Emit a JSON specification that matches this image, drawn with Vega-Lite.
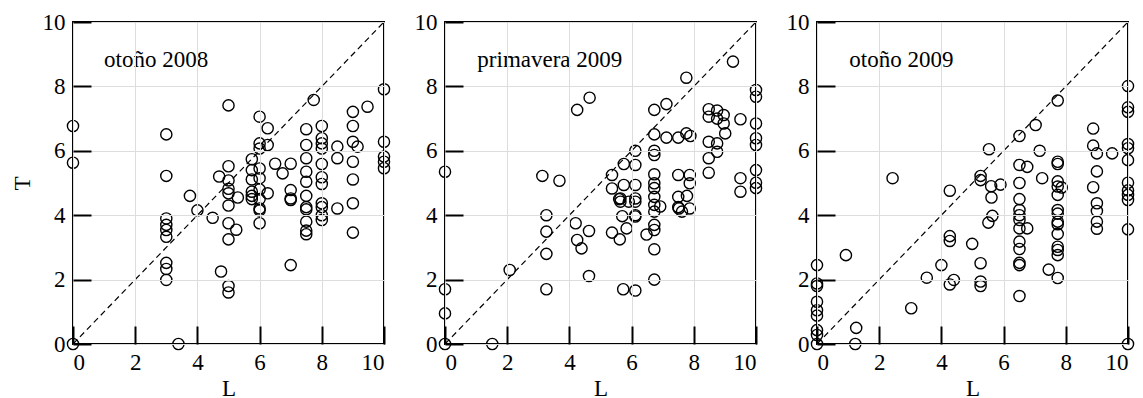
{
"$schema": "https://vega.github.io/schema/vega-lite/v6.json",
"padding": {"left": 10, "top": 10, "right": 2, "bottom": 0},
"spacing": 61,
"bounds": "flush",
"datasets": {
"diag": [{"L": 0, "T": 0}, {"L": 10, "T": 10}],
"p1": [
{"L":0,"T":0},{"L":0,"T":6.77},{"L":0,"T":5.63},
{"L":3,"T":6.51},{"L":3,"T":5.22},{"L":3,"T":3.9},{"L":3,"T":3.7},{"L":3,"T":3.54},{"L":3,"T":3.33},{"L":3,"T":2.52},{"L":3,"T":2.33},{"L":3,"T":1.99},
{"L":3.39,"T":0},{"L":3.76,"T":4.6},{"L":4.0,"T":4.15},{"L":4.49,"T":3.92},{"L":4.76,"T":2.25},{"L":4.7,"T":5.2},
{"L":5,"T":7.41},{"L":5,"T":5.52},{"L":5,"T":5.08},{"L":5,"T":4.82},{"L":5,"T":4.68},{"L":5,"T":4.3},{"L":5,"T":3.75},{"L":5,"T":3.25},{"L":5,"T":1.8},{"L":5,"T":1.6},{"L":5.25,"T":3.55},{"L":5.3,"T":4.55},
{"L":5.75,"T":5.74},{"L":5.75,"T":5.4},{"L":5.75,"T":5.11},{"L":5.75,"T":4.73},{"L":5.75,"T":4.6},{"L":5.75,"T":4.5},
{"L":6,"T":7.06},{"L":6,"T":6.23},{"L":6,"T":6.07},{"L":6,"T":5.45},{"L":6,"T":5.15},{"L":6,"T":4.8},{"L":6,"T":4.5},{"L":6,"T":4.21},{"L":6,"T":4.15},{"L":6,"T":3.75},
{"L":6.26,"T":6.7},{"L":6.26,"T":6.18},{"L":6.26,"T":4.68},
{"L":6.5,"T":5.6},{"L":6.74,"T":5.3},{"L":7,"T":5.6},{"L":7,"T":4.78},{"L":7,"T":4.52},{"L":7,"T":4.47},{"L":7,"T":2.45},
{"L":7.5,"T":6.67},{"L":7.5,"T":6.18},{"L":7.5,"T":5.77},{"L":7.5,"T":5.35},{"L":7.5,"T":5.04},{"L":7.5,"T":4.6},{"L":7.5,"T":4.25},{"L":7.5,"T":4.18},{"L":7.5,"T":3.8},{"L":7.5,"T":3.52},{"L":7.5,"T":3.41},
{"L":7.74,"T":7.58},
{"L":8,"T":6.77},{"L":8,"T":6.39},{"L":8,"T":6.23},{"L":8,"T":6.07},{"L":8,"T":5.59},{"L":8,"T":5.18},{"L":8,"T":4.97},{"L":8,"T":4.37},{"L":8,"T":4.25},{"L":8,"T":4.0},{"L":8,"T":3.85},
{"L":8.5,"T":6.13},{"L":8.5,"T":5.77},{"L":8.5,"T":4.21},
{"L":9,"T":7.21},{"L":9,"T":6.77},{"L":9,"T":6.28},{"L":9.15,"T":6.13},{"L":9,"T":5.66},{"L":9,"T":5.11},{"L":9,"T":4.37},{"L":9,"T":3.46},
{"L":9.47,"T":7.37},
{"L":10,"T":7.91},{"L":10,"T":6.28},{"L":10,"T":5.82},{"L":10,"T":5.66},{"L":10,"T":5.46}
],
"p2": [
{"L":0,"T":0},{"L":0,"T":5.35},{"L":0,"T":1.7},{"L":0,"T":0.95},{"L":1.52,"T":0},{"L":2.08,"T":2.3},
{"L":3.13,"T":5.22},{"L":3.68,"T":5.07},{"L":3.26,"T":4.0},{"L":3.26,"T":3.49},{"L":3.26,"T":2.8},{"L":3.26,"T":1.7},
{"L":4.2,"T":3.75},{"L":4.25,"T":3.23},{"L":4.39,"T":2.97},{"L":4.63,"T":3.51},{"L":4.63,"T":2.11},{"L":4.25,"T":7.27},{"L":4.65,"T":7.65},
{"L":5.37,"T":5.25},{"L":5.37,"T":4.83},{"L":5.37,"T":3.46},{"L":5.64,"T":4.52},{"L":5.6,"T":4.5},{"L":5.64,"T":4.42},{"L":5.62,"T":3.25},{"L":5.7,"T":3.97},{"L":5.73,"T":1.7},{"L":5.75,"T":5.59},{"L":5.75,"T":4.94},{"L":5.84,"T":3.59},{"L":5.91,"T":4.42},
{"L":6.12,"T":6.0},{"L":6.12,"T":5.56},{"L":6.12,"T":4.94},{"L":6.12,"T":4.52},{"L":6.12,"T":4.42},{"L":6.12,"T":4.0},{"L":6.12,"T":3.96},{"L":6.12,"T":1.66},{"L":6.48,"T":3.4},
{"L":6.73,"T":7.27},{"L":6.73,"T":6.51},{"L":6.73,"T":6.0},{"L":6.73,"T":5.87},{"L":6.73,"T":5.27},{"L":6.73,"T":4.99},{"L":6.73,"T":4.84},{"L":6.73,"T":4.57},{"L":6.73,"T":4.32},{"L":6.73,"T":4.11},{"L":6.73,"T":3.7},{"L":6.73,"T":3.54},{"L":6.73,"T":2.94},{"L":6.73,"T":2.0},{"L":6.92,"T":4.27},
{"L":7.12,"T":7.45},{"L":7.12,"T":6.41},{"L":7.5,"T":6.41},{"L":7.5,"T":5.25},{"L":7.5,"T":4.57},{"L":7.5,"T":4.25},{"L":7.52,"T":4.21},{"L":7.62,"T":4.11},
{"L":7.76,"T":8.27},{"L":7.76,"T":6.54},{"L":7.89,"T":6.46},{"L":7.87,"T":5.25},{"L":7.87,"T":4.99},{"L":7.78,"T":4.6},{"L":7.87,"T":4.21},
{"L":8.48,"T":7.29},{"L":8.48,"T":7.06},{"L":8.75,"T":7.25},{"L":8.75,"T":7.0},{"L":8.96,"T":7.11},{"L":8.96,"T":6.85},{"L":9.01,"T":6.54},{"L":8.48,"T":6.28},{"L":8.75,"T":6.23},{"L":8.75,"T":5.97},{"L":8.48,"T":5.77},{"L":8.48,"T":5.32},
{"L":9.26,"T":8.77},{"L":9.5,"T":6.98},{"L":9.5,"T":5.15},{"L":9.5,"T":4.73},
{"L":10,"T":7.89},{"L":10,"T":7.68},{"L":10,"T":6.85},{"L":10,"T":6.39},{"L":10,"T":6.18},{"L":10,"T":5.4},{"L":10,"T":5.01},{"L":10,"T":4.84}
],
"p3": [
{"L":0,"T":0},{"L":0,"T":0.28},{"L":0,"T":0.43},{"L":0,"T":0.88},{"L":0,"T":1.05},{"L":0,"T":1.31},{"L":0,"T":1.8},{"L":0,"T":1.88},{"L":0,"T":2.45},
{"L":0.93,"T":2.76},{"L":1.26,"T":0.5},{"L":1.23,"T":0},{"L":3.03,"T":1.11},{"L":3.53,"T":2.06},{"L":4.0,"T":2.45},{"L":4.27,"T":1.85},{"L":4.4,"T":1.99},{"L":4.27,"T":3.35},{"L":4.27,"T":3.2},{"L":4.27,"T":4.76},
{"L":2.43,"T":5.15},{"L":4.99,"T":3.11},{"L":5.26,"T":2.51},{"L":5.26,"T":1.94},{"L":5.26,"T":1.8},{"L":5.26,"T":5.22},{"L":5.26,"T":5.09},{"L":5.51,"T":3.77},{"L":5.64,"T":3.98},{"L":5.61,"T":4.55},{"L":5.6,"T":4.9},{"L":5.9,"T":4.95},{"L":5.53,"T":6.05},
{"L":6.51,"T":6.46},{"L":6.51,"T":5.56},{"L":6.51,"T":5.0},{"L":6.51,"T":4.5},{"L":6.51,"T":4.16},{"L":6.51,"T":4.0},{"L":6.51,"T":3.85},{"L":6.51,"T":3.59},{"L":6.51,"T":3.18},{"L":6.51,"T":2.95},{"L":6.51,"T":2.52},{"L":6.51,"T":2.45},{"L":6.51,"T":1.49},
{"L":6.76,"T":5.5},{"L":6.76,"T":3.59},{"L":7.03,"T":6.8},{"L":7.16,"T":6.0},{"L":7.24,"T":5.15},{"L":7.45,"T":2.31},
{"L":7.74,"T":7.56},{"L":7.74,"T":5.66},{"L":7.74,"T":5.59},{"L":7.74,"T":5.05},{"L":7.74,"T":4.89},{"L":7.74,"T":4.63},{"L":7.74,"T":4.16},{"L":7.74,"T":4.05},{"L":7.74,"T":3.8},{"L":7.74,"T":3.72},{"L":7.74,"T":3.42},{"L":7.74,"T":3.02},{"L":7.74,"T":2.92},{"L":7.74,"T":2.76},{"L":7.74,"T":2.05},
{"L":7.87,"T":4.86},
{"L":8.88,"T":6.69},{"L":8.88,"T":6.16},{"L":8.88,"T":4.87},
{"L":9,"T":5.92},{"L":9,"T":5.36},{"L":9,"T":4.37},{"L":9,"T":4.13},{"L":9,"T":3.8},{"L":9,"T":3.58},
{"L":9.49,"T":5.92},
{"L":10,"T":8.01},{"L":10,"T":7.35},{"L":10,"T":7.21},{"L":10,"T":6.21},{"L":10,"T":6.08},{"L":10,"T":5.71},{"L":10,"T":5.01},{"L":10,"T":4.77},{"L":10,"T":4.63},{"L":10,"T":4.47},{"L":10,"T":3.56},{"L":10,"T":0}
]
},
"hconcat": [
{
"width": 311, "height": 322,
"layer": [
{"data": {"name": "p1"}, "mark": {"type": "point", "shape": "circle", "filled": false, "stroke": "black", "strokeWidth": 1.4, "size": 125, "opacity": 1},
 "encoding": {
  "x": {"field": "L", "type": "quantitative", "scale": {"domain": [0, 10], "nice": false, "zero": false}, "axis": {"orient": "bottom", "zindex": 1, "values": [0,1,2,3,4,5,6,7,8,9,10], "labelExpr": "datum.value % 2 ? '' : datum.label", "labelFont": "Liberation Serif", "labelFontSize": 23, "labelPadding": 25, "tickSize": {"condition": {"test": "datum.value % 2 == 1", "value": -9}, "value": -18}, "tickColor": "black", "tickWidth": 2, "domain": false, "title": "L", "titleFont": "Liberation Serif", "titleFontSize": 23, "titleFontWeight": "normal", "titlePadding": 3}},
  "y": {"field": "T", "type": "quantitative", "scale": {"domain": [0, 10], "nice": false, "zero": false}, "axis": {"orient": "left", "zindex": 1, "values": [0,1,2,3,4,5,6,7,8,9,10], "labelExpr": "datum.value % 2 ? '' : datum.label", "labelFont": "Liberation Serif", "labelFontSize": 23, "labelPadding": 26, "tickSize": {"condition": {"test": "datum.value % 2 == 1", "value": -9}, "value": -18}, "tickColor": "black", "tickWidth": 2, "domain": false, "title": "T", "titleFont": "Liberation Serif", "titleFontSize": 23, "titleFontWeight": "normal", "titlePadding": 8}}}},
{"data": {"name": "diag"}, "mark": {"type": "line", "stroke": "black", "strokeWidth": 1.2, "strokeDash": [6, 4]},
 "encoding": {
  "x": {"field": "L", "type": "quantitative"},
  "y": {"field": "T", "type": "quantitative"}}},
{"data": {"values": [{"L": 1, "T": 8.6, "label": "otoño 2008"}]}, "mark": {"type": "text", "align": "left", "baseline": "alphabetic", "font": "Liberation Serif", "fontSize": 23, "color": "black"},
 "encoding": {
  "text": {"field": "label"},
  "x": {"field": "L", "type": "quantitative"},
  "y": {"field": "T", "type": "quantitative"}}}
]
},
{
"width": 311, "height": 322,
"layer": [
{"data": {"name": "p2"}, "mark": {"type": "point", "shape": "circle", "filled": false, "stroke": "black", "strokeWidth": 1.4, "size": 125, "opacity": 1},
 "encoding": {
  "x": {"field": "L", "type": "quantitative", "scale": {"domain": [0, 10], "nice": false, "zero": false}, "axis": {"orient": "bottom", "zindex": 1, "values": [0,1,2,3,4,5,6,7,8,9,10], "labelExpr": "datum.value % 2 ? '' : datum.label", "labelFont": "Liberation Serif", "labelFontSize": 23, "labelPadding": 25, "tickSize": {"condition": {"test": "datum.value % 2 == 1", "value": -9}, "value": -18}, "tickColor": "black", "tickWidth": 2, "domain": false, "title": "L", "titleFont": "Liberation Serif", "titleFontSize": 23, "titleFontWeight": "normal", "titlePadding": 3}},
  "y": {"field": "T", "type": "quantitative", "scale": {"domain": [0, 10], "nice": false, "zero": false}, "axis": {"orient": "left", "zindex": 1, "values": [0,1,2,3,4,5,6,7,8,9,10], "labelExpr": "datum.value % 2 ? '' : datum.label", "labelFont": "Liberation Serif", "labelFontSize": 23, "labelPadding": 26, "tickSize": {"condition": {"test": "datum.value % 2 == 1", "value": -9}, "value": -18}, "tickColor": "black", "tickWidth": 2, "domain": false, "title": null}}}},
{"data": {"name": "diag"}, "mark": {"type": "line", "stroke": "black", "strokeWidth": 1.2, "strokeDash": [6, 4]},
 "encoding": {
  "x": {"field": "L", "type": "quantitative"},
  "y": {"field": "T", "type": "quantitative"}}},
{"data": {"values": [{"L": 1.04, "T": 8.6, "label": "primavera 2009"}]}, "mark": {"type": "text", "align": "left", "baseline": "alphabetic", "font": "Liberation Serif", "fontSize": 23, "color": "black"},
 "encoding": {
  "text": {"field": "label"},
  "x": {"field": "L", "type": "quantitative"},
  "y": {"field": "T", "type": "quantitative"}}}
]
},
{
"width": 311, "height": 322,
"layer": [
{"data": {"name": "p3"}, "mark": {"type": "point", "shape": "circle", "filled": false, "stroke": "black", "strokeWidth": 1.4, "size": 125, "opacity": 1},
 "encoding": {
  "x": {"field": "L", "type": "quantitative", "scale": {"domain": [0, 10], "nice": false, "zero": false}, "axis": {"orient": "bottom", "zindex": 1, "values": [0,1,2,3,4,5,6,7,8,9,10], "labelExpr": "datum.value % 2 ? '' : datum.label", "labelFont": "Liberation Serif", "labelFontSize": 23, "labelPadding": 25, "tickSize": {"condition": {"test": "datum.value % 2 == 1", "value": -9}, "value": -18}, "tickColor": "black", "tickWidth": 2, "domain": false, "title": "L", "titleFont": "Liberation Serif", "titleFontSize": 23, "titleFontWeight": "normal", "titlePadding": 3}},
  "y": {"field": "T", "type": "quantitative", "scale": {"domain": [0, 10], "nice": false, "zero": false}, "axis": {"orient": "left", "zindex": 1, "values": [0,1,2,3,4,5,6,7,8,9,10], "labelExpr": "datum.value % 2 ? '' : datum.label", "labelFont": "Liberation Serif", "labelFontSize": 23, "labelPadding": 26, "tickSize": {"condition": {"test": "datum.value % 2 == 1", "value": -9}, "value": -18}, "tickColor": "black", "tickWidth": 2, "domain": false, "title": null}}}},
{"data": {"name": "diag"}, "mark": {"type": "line", "stroke": "black", "strokeWidth": 1.2, "strokeDash": [6, 4]},
 "encoding": {
  "x": {"field": "L", "type": "quantitative"},
  "y": {"field": "T", "type": "quantitative"}}},
{"data": {"values": [{"L": 1.04, "T": 8.6, "label": "otoño 2009"}]}, "mark": {"type": "text", "align": "left", "baseline": "alphabetic", "font": "Liberation Serif", "fontSize": 23, "color": "black"},
 "encoding": {
  "text": {"field": "label"},
  "x": {"field": "L", "type": "quantitative"},
  "y": {"field": "T", "type": "quantitative"}}}
]
}
],
"config": {
 "font": "Liberation Serif",
 "background": "white",
 "view": {"stroke": "black", "strokeWidth": 2}
}
}
